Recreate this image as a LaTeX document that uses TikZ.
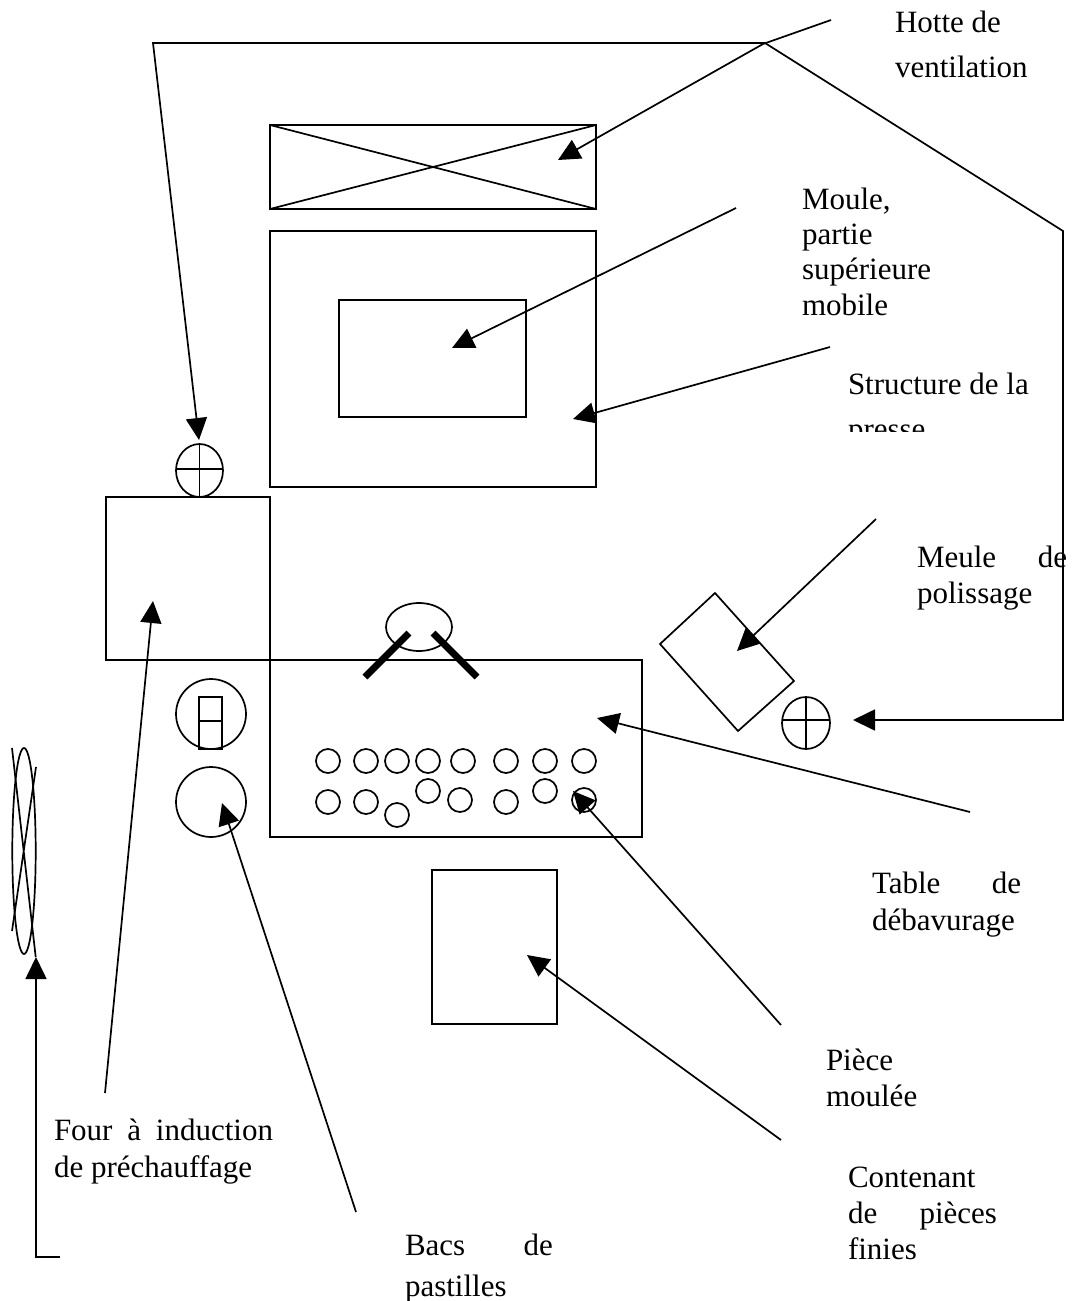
\documentclass[tikz,border=0pt]{standalone}
\usepackage{fontspec}
\setmainfont{Liberation Serif}
\usetikzlibrary{arrows.meta}
\tikzset{
  ln/.style={draw=black,line width=1.7pt},
  arr/.style={ln,-{Triangle[length=22pt,width=21pt]}},
  hole/.style={ln,circle,minimum size=24pt,inner sep=0pt,outer sep=0pt},
  box/.style={ln,rectangle,inner sep=0pt,outer sep=0pt},
  lab/.style={anchor=base west,inner sep=0pt,outer sep=0pt,font=\fontsize{31pt}{34pt}\selectfont},
}
\begin{document}
\begin{tikzpicture}[x=1pt,y=-1pt]
\useasboundingbox (0,0) rectangle (1071,1301);
\fill[white] (0,0) rectangle (1071,1301);
% main shapes
\node[box,minimum width=326pt,minimum height=84pt] (hood) at (433,167) {};
\draw[ln] (hood.north west) -- (hood.south east) (hood.south west) -- (hood.north east);
\node[box,minimum width=326pt,minimum height=256pt] (press) at (433,359) {};
\node[box,minimum width=187pt,minimum height=117pt] (mould) at (432.5,358.5) {};
\node[box,minimum width=164pt,minimum height=163pt] (oven) at (188,578.5) {};
\node[box,minimum width=372pt,minimum height=177pt] (table) at (456,748.5) {};
\node[box,minimum width=125pt,minimum height=154pt] (bin) at (494.5,947) {};
% oven fan
\draw[ln] (199.5,470.5) ellipse (23.5pt and 26.5pt);
\draw[ln] (199.5,444) -- (199.5,497) (176,469) -- (223,469);
% pellet bins
\node[ln,circle,minimum size=70pt,inner sep=0pt] (binA) at (211,714) {};
\node[box,minimum width=23pt,minimum height=52pt] (slot) at (210.5,723) {};
\draw[ln] (slot.west) ++(0,-2) -- ++(23,0);
\node[ln,circle,minimum size=70pt,inner sep=0pt] (binB) at (211,802) {};
% left screen
\draw[ln] (24,851) ellipse (11.7pt and 103pt);
\draw[ln] (12,748) -- (35.7,957) (36,767) -- (12,931);
% operator
\draw[ln] (419,627) ellipse (33pt and 24pt);
\draw[draw=black,line width=7pt] (365,677) -- (409,633) (433,633) -- (477,677);
% parts
\foreach \n/\x/\y in {a/328/761,b/366/761,c/397/761,d/428/761,e/463/761,f/506/761,g/545/761,h/584/761,
  i/328/802,j/366/802,k/397/815,l/428/791,m/460/800,n/506/802,o/545/791,p/584/800}
  \node[hole] (part\n) at (\x,\y) {};
% grinder
\draw[ln] (715,593) -- (660,644) -- (738,731) -- (794,681) -- cycle;
\draw[ln] (806,723) ellipse (24pt and 26pt);
\draw[ln] (806,697) -- (806,749) (782,720) -- (830,720);
% ventilation duct
\coordinate (ductL) at (153,43);
\coordinate (ductM) at (765,43);
\coordinate (ductR) at (1063,231);
\coordinate (ductB) at (1063,720);
\coordinate (ductT) at (853,720);
\coordinate (fanTip) at (199,440);
\draw[arr] (ductM) -- (ductL) -- (fanTip);
\draw[arr] (ductM) -- (ductR) -- (ductB) -- (ductT);
% leaders
\coordinate (h0) at (831,20); \coordinate (h1) at (763,44); \coordinate (h2) at (558,160);
\draw[arr] (h0) -- (h1) -- (h2);
\coordinate (m0) at (736,208); \coordinate (m1) at (452,348);
\draw[arr] (m0) -- (m1);
\coordinate (s0) at (830,347); \coordinate (s1) at (573,419);
\draw[arr] (s0) -- (s1);
\coordinate (g0) at (876,519); \coordinate (g1) at (737,651);
\draw[arr] (g0) -- (g1);
\coordinate (t0) at (970,812); \coordinate (t1) at (597,718);
\draw[arr] (t0) -- (t1);
\coordinate (p0) at (781,1025); \coordinate (p1) at (573,791);
\draw[arr] (p0) -- (p1);
\coordinate (c0) at (781,1140); \coordinate (c1) at (527,955);
\draw[arr] (c0) -- (c1);
\coordinate (f0) at (105,1093); \coordinate (f1) at (153,601);
\draw[arr] (f0) -- (f1);
\coordinate (b0) at (356,1212); \coordinate (b1) at (222,803);
\draw[arr] (b0) -- (b1);
\coordinate (e0) at (60,1257); \coordinate (e1) at (36,1257); \coordinate (e2) at (36,957);
\draw[arr] (e0) -- (e1) -- (e2);
% labels
\node[lab] (l1) at (895,32) {Hotte de};
\node[lab] (l2) at (895,77) {ventilation};
\node[lab] (l3) at (802,209) {Moule,};
\node[lab] (l4) at (802,244) {partie};
\node[lab] (l5) at (802,279) {supérieure};
\node[lab] (l6) at (802,315) {mobile};
\node[lab] (l7) at (848,394) {Structure de la};
\begin{scope}
\clip (840,400) rectangle (1040,431);
\node[lab] (l8) at (848,439) {presse};
\end{scope}
\node[lab] (l9) at (917,567) {\makebox[150pt][s]{Meule\hfill de}};
\node[lab] (l10) at (917,603) {polissage};
\node[lab] (l11) at (872,893) {\makebox[149pt][s]{Table\hfill de}};
\node[lab] (l12) at (872,930) {débavurage};
\node[lab] (l13) at (826,1070) {Pièce};
\node[lab] (l14) at (826,1106) {moulée};
\node[lab] (l15) at (54,1140) {\makebox[219pt][s]{Four\hfill à\hfill induction}};
\node[lab] (l16) at (54,1177) {de préchauffage};
\node[lab] (l17) at (848,1187) {Contenant};
\node[lab] (l18) at (848,1223) {\makebox[149pt][s]{de\hfill pièces}};
\node[lab] (l19) at (848,1259) {finies};
\node[lab] (l20) at (405,1255) {\makebox[148pt][s]{Bacs\hfill de}};
\node[lab] (l21) at (405,1296) {pastilles};
\end{tikzpicture}
\end{document}
